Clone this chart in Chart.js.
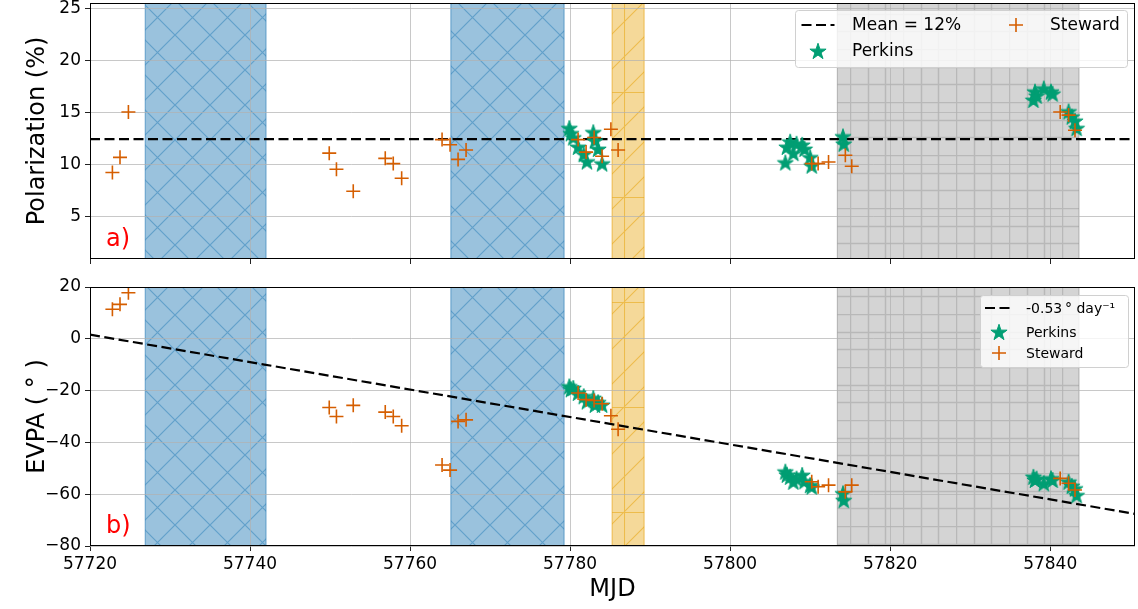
<!DOCTYPE html>
<html>
<head>
<meta charset="utf-8">
<script src="https://cdn.jsdelivr.net/npm/chart.js@4.4.1/dist/chart.umd.min.js"></script>
<style>
  html, body { margin: 0; padding: 0; background: #fff; }
  #wrap { position: relative; width: 1138px; height: 609px; }
  canvas { position: absolute; left: 0; }
  #polChart { top: 0; }
  #evpaChart { top: 270px; }
</style>
</head>
<body>
<div id="wrap">
  <canvas id="polChart" width="1138" height="270" style="width:1138px;height:270px"></canvas>
  <canvas id="evpaChart" width="1138" height="339" style="width:1138px;height:339px"></canvas>
</div>
<script>
// shared time axis
var xMin = 57720, xMax = 57850.6;
var xTicks = [57720, 57740, 57760, 57780, 57800, 57820, 57840];
var polTicks = [5, 10, 15, 20, 25];
var evpaTicks = [20, 0, -20, -40, -60, -80];

// Steward observations
var stewardMjd = [57722.8, 57723.75, 57724.8, 57749.9, 57750.8, 57752.9, 57756.9, 57757.9, 57758.95,
                  57764.0, 57765.0, 57766.0, 57767.0, 57781.0, 57782.0, 57783.0, 57784.0, 57785.1, 57786.0,
                  57810.2, 57811.0, 57812.3, 57814.4, 57815.2, 57841.25, 57842.3, 57843.1];
var stewardPol = [9.25, 10.7, 15.05, 11.1, 9.55, 7.45, 10.6, 10.1, 8.7,
                  12.4, 11.9, 10.5, 11.4, 12.4, 11.2, 12.6, 10.8, 13.4, 11.4,
                  10.1, 10.1, 10.25, 10.9, 9.85, 15.05, 14.75, 13.3];
var stewardEvpa = [11.4, 13.3, 17.8, -26.5, -30.0, -25.7, -28.3, -30.0, -33.6,
                   -48.7, -50.7, -31.9, -31.3, -20.9, -23.5, -23.8, -25.1, -29.7, -34.9,
                   -55.2, -57.1, -56.5, -59.1, -56.5, -53.9, -55.8, -58.4];

// Perkins observations
var perkinsMjd = [57779.9, 57780.1, 57780.4, 57781.0, 57781.7, 57782.1, 57782.9, 57783.1, 57783.5, 57784.0,
                  57806.9, 57807.1, 57807.5, 57807.9, 57808.3, 57809.0, 57809.3, 57810.0, 57810.2,
                  57814.1, 57814.2,
                  57837.9, 57838.1, 57838.3, 57839.2, 57840.1, 57840.3, 57842.3, 57842.7, 57843.1, 57843.3];
var perkinsPol = [13.5, 13.0, 12.6, 11.7, 11.0, 10.3, 13.1, 12.3, 11.5, 10.1,
                  10.2, 11.7, 12.2, 11.1, 12.0, 11.9, 11.5, 10.7, 9.9,
                  12.7, 12.0,
                  16.2, 17.0, 16.6, 17.3, 17.0, 16.8, 15.1, 14.6, 14.2, 13.5];
var perkinsEvpa = [-18.4, -19.5, -19.0, -20.9, -22.2, -24.2, -22.9, -25.5, -24.5, -25.5,
                   -51.3, -52.5, -53.3, -55.2, -54.0, -52.6, -55.0, -56.5, -57.1,
                   -59.7, -62.3,
                   -53.3, -54.5, -54.0, -55.8, -53.9, -54.5, -55.2, -56.8, -57.8, -60.4];

var meanPol = 12.45;
var evpaSlope = -0.53;     // deg / day
var evpaStart = 1.6;       // fit value at xMin

// shaded MJD intervals
var spanStart = [57726.9, 57765.1, 57785.25, 57813.4];
var spanEnd   = [57742.0, 57779.25, 57789.25, 57843.6];
var spanKind  = ['blue', 'blue', 'orange', 'grey'];

var FONT = "'DejaVu Sans', sans-serif";
var GREEN = '#009E73', VERM = '#D55E00';

function pts(xs, ys) { return xs.map(function (x, i) { return { x: x, y: ys[i] }; }); }
function minus(v) { return v < 0 ? '\u2212' + Math.abs(v) : String(v); }

function makeStar(r, color) {
  var s = Math.ceil(r * 2 + 3), c = document.createElement('canvas');
  c.width = s; c.height = s;
  var g = c.getContext('2d');
  g.translate(s / 2, s / 2 + r * 0.09);
  g.beginPath();
  for (var i = 0; i < 10; i++) {
    var rad = i % 2 ? r * 0.382 : r, ang = -Math.PI / 2 + i * Math.PI / 5;
    g.lineTo(rad * Math.cos(ang), rad * Math.sin(ang));
  }
  g.closePath();
  g.fillStyle = color; g.fill();
  g.strokeStyle = color; g.lineWidth = 1; g.stroke();
  return c;
}
var starImg = makeStar(8.5, GREEN);

// hatch tiles for the shaded intervals
function tile(size, draw) {
  var c = document.createElement('canvas');
  c.width = size; c.height = size;
  var g = c.getContext('2d');
  draw(g, size);
  return c;
}
var hatchTiles = {
  blue: tile(35, function (g, s) {
    g.strokeStyle = 'rgba(31,119,180,0.45)'; g.lineWidth = 1.2; g.beginPath();
    [-s, 0, s].forEach(function (d) {
      g.moveTo(d, 0); g.lineTo(d + s, s);
      g.moveTo(d, s); g.lineTo(d + s, 0);
    });
    g.stroke();
  }),
  orange: tile(105, function (g, s) {
    g.strokeStyle = 'rgba(230,159,0,0.5)'; g.lineWidth = 1.1; g.beginPath();
    for (var d = -s; d <= s; d += 35) { g.moveTo(d, s); g.lineTo(d + s, 0); }
    g.moveTo(0.5, 0); g.lineTo(0.5, s);
    g.moveTo(0, 0.5); g.lineTo(s, 0.5);
    g.stroke();
  }),
  grey: tile(53, function (g, s) {
    g.strokeStyle = 'rgba(120,120,120,0.3)'; g.lineWidth = 1.5; g.beginPath();
    [0.5, 18.5, 35.5].forEach(function (p) {
      g.moveTo(p, 0); g.lineTo(p, s);
      g.moveTo(0, p); g.lineTo(s, p);
    });
    g.stroke();
  })
};
var spanFill = { blue: 'rgba(31,119,180,0.45)', orange: 'rgba(230,159,0,0.4)', grey: 'rgba(169,169,169,0.5)' };
var spanEdge = { blue: 'rgba(31,119,180,0.6)', orange: 'rgba(230,159,0,0.6)', grey: 'rgba(140,140,140,0.6)' };
var hatchOrigin = { blue: [0, 0], orange: [624, 197], grey: [850, 155] };

var spansPlugin = {
  id: 'spans',
  beforeDraw: function (chart, args, opts) {
    var ctx = chart.ctx, a = chart.chartArea, x = chart.scales.x;
    ctx.save();
    ctx.beginPath(); ctx.rect(a.left, a.top, a.right - a.left, a.bottom - a.top); ctx.clip();
    spanStart.forEach(function (s0, i) {
      var k = spanKind[i];
      var x0 = x.getPixelForValue(s0), x1 = x.getPixelForValue(spanEnd[i]);
      ctx.fillStyle = spanFill[k];
      ctx.fillRect(x0, a.top, x1 - x0, a.bottom - a.top);
      var pat = ctx.createPattern(hatchTiles[k], 'repeat');
      pat.setTransform(new DOMMatrix().translate(hatchOrigin[k][0], hatchOrigin[k][1] - opts.pageTop));
      ctx.fillStyle = pat;
      ctx.fillRect(x0, a.top, x1 - x0, a.bottom - a.top);
      ctx.strokeStyle = spanEdge[k]; ctx.lineWidth = 1;
      ctx.beginPath();
      ctx.moveTo(x0, a.top); ctx.lineTo(x0, a.bottom);
      ctx.moveTo(x1, a.top); ctx.lineTo(x1, a.bottom);
      ctx.stroke();
    });
    ctx.restore();
  }
};

// axes frame and panel letter
var framePlugin = {
  id: 'frame',
  afterDatasetsDraw: function (chart, args, opts) {
    var ctx = chart.ctx, a = chart.chartArea;
    ctx.save();
    ctx.strokeStyle = '#000'; ctx.lineWidth = 1;
    ctx.strokeRect(Math.round(a.left) + 0.5, Math.round(a.top) + 0.5,
                   Math.round(a.right - a.left) - 1, Math.round(a.bottom - a.top) - 1);
    ctx.fillStyle = 'red';
    ctx.font = '24px ' + FONT;
    ctx.textBaseline = 'alphabetic';
    ctx.fillText(opts.letter, a.left + 16, a.bottom - 13);
    ctx.restore();
  }
};

function drawHandle(ctx, ds, cx, cy, len) {
  if (ds.showLine) {
    ctx.save();
    ctx.strokeStyle = ds.borderColor; ctx.lineWidth = ds.borderWidth;
    ctx.setLineDash(ds.borderDash);
    ctx.beginPath(); ctx.moveTo(cx - len / 2, cy); ctx.lineTo(cx + len / 2, cy); ctx.stroke();
    ctx.restore();
  } else if (ds.pointStyle === 'cross') {
    ctx.save();
    ctx.strokeStyle = ds.borderColor; ctx.lineWidth = ds.borderWidth;
    var r = ds.pointRadius;
    ctx.beginPath();
    ctx.moveTo(cx - r, cy); ctx.lineTo(cx + r, cy);
    ctx.moveTo(cx, cy - r); ctx.lineTo(cx, cy + r);
    ctx.stroke();
    ctx.restore();
  } else {
    ctx.drawImage(ds.pointStyle, cx - ds.pointStyle.width / 2, cy - ds.pointStyle.height / 2);
  }
}

var legendPlugin = {
  id: 'panelLegend',
  afterDraw: function (chart, args, o) {
    var ctx = chart.ctx, a = chart.chartArea;
    var x0 = a.right - o.right - o.width, y0 = a.top + o.top;
    ctx.save();
    ctx.beginPath();
    ctx.roundRect(x0 + 0.5, y0 + 0.5, o.width, o.height, 3);
    ctx.fillStyle = 'rgba(255,255,255,0.8)'; ctx.fill();
    ctx.strokeStyle = '#d0d0d0'; ctx.lineWidth = 1; ctx.stroke();
    ctx.font = o.fontSize + 'px ' + FONT;
    ctx.fillStyle = '#000';
    ctx.textBaseline = 'middle';
    o.items.forEach(function (it) {
      var ds = chart.data.datasets[it.index];
      var cx = x0 + o.colX[it.col], cy = y0 + o.rowY[it.row];
      drawHandle(ctx, ds, cx, cy, o.handle);
      ctx.fillText(ds.label, cx + o.textGap, cy + 1);
    });
    ctx.restore();
  }
};

// let tick labels overhang the plot edges instead of shrinking the plot
function noOverhang(s) { s.paddingLeft = 0; s.paddingRight = 0; s.paddingTop = 0; s.paddingBottom = 0; }

function xScale(showLabels, height) {
  return {
    type: 'linear', min: xMin, max: xMax,
    afterBuildTicks: function (s) { s.ticks = xTicks.map(function (v) { return { value: v }; }); },
    afterFit: function (s) { s.height = height; noOverhang(s); },
    grid: { color: 'rgba(176,176,176,0.7)', lineWidth: 1, tickLength: 5, tickColor: '#222', drawTicks: true },
    border: { display: false },
    ticks: { display: showLabels, color: '#000', padding: 3, maxRotation: 0,
             font: { family: FONT, size: 17 }, callback: function (v) { return String(v); } },
    title: { display: showLabels, text: 'MJD', color: '#000', font: { family: FONT, size: 24 },
             padding: { top: 0, bottom: 5 } }
  };
}

function yScale(min, max, ticks, title) {
  return {
    type: 'linear', min: min, max: max,
    afterBuildTicks: function (s) { s.ticks = ticks.map(function (v) { return { value: v }; }); },
    afterFit: function (s) { s.width = 90; noOverhang(s); },
    grid: { color: 'rgba(176,176,176,0.7)', lineWidth: 1, tickLength: 5, tickColor: '#222', drawTicks: true },
    border: { display: false },
    ticks: { color: '#000', padding: 4, font: { family: FONT, size: 17 }, callback: minus },
    title: { display: true, text: title, color: '#000', font: { family: FONT, size: 24 },
             padding: { top: 23, bottom: 0 } }
  };
}

function pointSets(ys1, ys2) {
  return [
    { label: 'Perkins', data: pts(perkinsMjd, ys1), pointStyle: starImg, pointRadius: 8,
      backgroundColor: GREEN, borderColor: GREEN, order: 2 },
    { label: 'Steward', data: pts(stewardMjd, ys2), pointStyle: 'cross', pointRadius: 7,
      borderColor: VERM, borderWidth: 1.6, order: 1 }
  ];
}

var common = { responsive: false, animation: false, events: [] };

new Chart(document.getElementById('polChart'), {
  type: 'scatter',
  data: {
    datasets: [
      { label: 'Mean = ' + Math.round(meanPol) + '%', data: [{ x: xMin, y: meanPol }, { x: xMax, y: meanPol }],
        showLine: true, pointRadius: 0, borderColor: '#000', borderWidth: 2.2, borderDash: [10, 4.5], order: 3 }
    ].concat(pointSets(perkinsPol, stewardPol))
  },
  options: Object.assign({}, common, {
    layout: { autoPadding: false, padding: { left: 0, right: 3, top: 3, bottom: 0 } },
    scales: { x: xScale(false, 11), y: yScale(0.95, 25.5, polTicks, 'Polarization (%)') },
    plugins: {
      legend: { display: false }, tooltip: { enabled: false },
      spans: { pageTop: 0 },
      frame: { letter: 'a)' },
      panelLegend: { right: 8, top: 7, width: 332, height: 57, fontSize: 17, handle: 33, textGap: 34,
                     colX: [23, 221], rowY: [15, 41],
                     items: [{ index: 0, col: 0, row: 0 }, { index: 1, col: 0, row: 1 }, { index: 2, col: 1, row: 0 }] }
    }
  }),
  plugins: [spansPlugin, framePlugin, legendPlugin]
});

new Chart(document.getElementById('evpaChart'), {
  type: 'scatter',
  data: {
    datasets: [
      { label: evpaSlope.toFixed(2) + '\u2009\u00b0 day\u207b\u00b9',
        data: [{ x: xMin, y: evpaStart }, { x: xMax, y: evpaStart + evpaSlope * (xMax - xMin) }],
        showLine: true, pointRadius: 0, borderColor: '#000', borderWidth: 2.2, borderDash: [10, 4.5], order: 3 }
    ].concat(pointSets(perkinsEvpa, stewardEvpa))
  },
  options: Object.assign({}, common, {
    layout: { autoPadding: false, padding: { left: 0, right: 3, top: 17, bottom: 0 } },
    scales: { x: xScale(true, 63), y: yScale(-80, 20, evpaTicks, 'EVPA ( \u00b0 )') },
    plugins: {
      legend: { display: false }, tooltip: { enabled: false },
      spans: { pageTop: 270 },
      frame: { letter: 'b)' },
      panelLegend: { right: 7, top: 8, width: 148, height: 72, fontSize: 14, handle: 28, textGap: 27,
                     colX: [19], rowY: [13, 37, 58],
                     items: [{ index: 0, col: 0, row: 0 }, { index: 1, col: 0, row: 1 }, { index: 2, col: 0, row: 2 }] }
    }
  }),
  plugins: [spansPlugin, framePlugin, legendPlugin]
});
</script>
</body>
</html>
